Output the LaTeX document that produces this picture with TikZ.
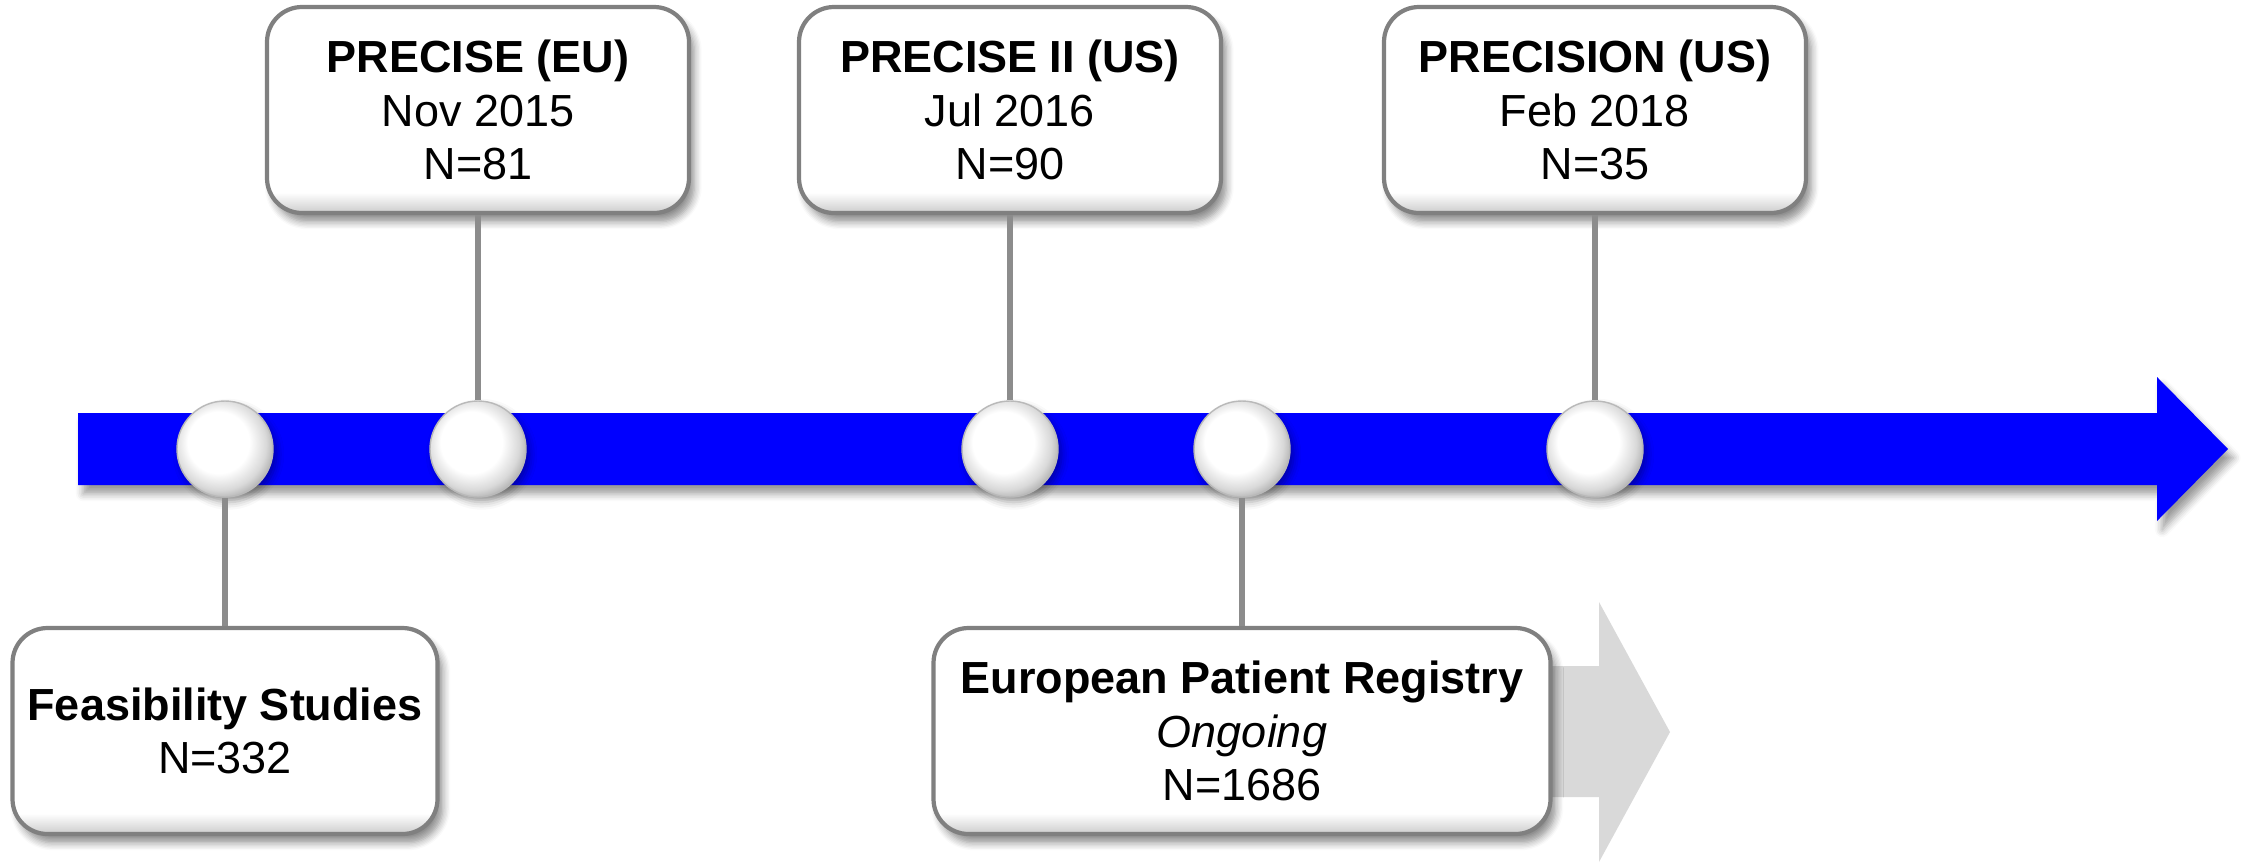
\documentclass[tikz,border=0pt]{standalone}
\usepackage{fontspec}
\setmainfont{Liberation Sans}
\usetikzlibrary{shadows.blur}

\definecolor{lineblue}{RGB}{0,0,255}
\definecolor{ghost}{RGB}{217,217,217}
\pgfdeclareradialshading{pearl}{\pgfpoint{-5bp}{5bp}}{color(0bp)=(white); color(16bp)=(white); color(24bp)=(gray!30); color(29bp)=(gray!65); color(50bp)=(gray!65)}
\pgfdeclareverticalshading{bevel}{100bp}{color(0bp)=(gray!40); color(25bp)=(gray!40); color(30bp)=(white); color(100bp)=(white)}

\begin{document}
\begin{tikzpicture}[x=0.1mm,y=-0.1mm,
	event/.style={draw=black!50,line width=1.2pt,shade,shading=bevel,rounded corners=3.5mm,
		align=center,minimum height=20.6mm,inner sep=2pt,
		font=\fontsize{12.8pt}{15.2pt}\selectfont,
		blur shadow={shadow xshift=1.5pt,shadow yshift=-2.5pt,shadow opacity=45,shadow blur steps=6}},
	dot/.style={circle,minimum size=9.6mm,inner sep=0pt,draw=gray!55,thin,
		shade,shading=pearl,
		blur shadow={shadow xshift=1pt,shadow yshift=-1.5pt,shadow opacity=35,shadow blur steps=4}},
	stem/.style={draw=black!45,line width=1.5pt}]
	\useasboundingbox (0,0) rectangle (2241,862);

	% timeline
	\fill[lineblue,blur shadow={shadow xshift=1.5pt,shadow yshift=-2.5pt,shadow opacity=40,shadow blur steps=5}]
		(78,413) -- (2157,413) -- (2157,377) -- (2228,449) -- (2157,521)
		-- (2157,485) -- (78,485) -- cycle;
	% registry continues
	\fill[ghost] (1500,666) -- (1599,666) -- (1599,602) -- (1670,732)
		-- (1599,862) -- (1599,797) -- (1500,797) -- cycle;

	\node[dot] (feas) at (225,449) {};
	\node[dot] (eu) at (478,449) {};
	\node[dot] (us) at (1010,449) {};
	\node[dot] (reg) at (1242,449) {};
	\node[dot] (prec) at (1595,449) {};

	\node[event,minimum width=42.2mm] (preciseEU) at (478,110)
		{\textbf{PRECISE (EU)}\\Nov 2015\\N=81};
	\node[event,minimum width=42.2mm] (preciseUS) at (1010,110)
		{\textbf{PRECISE II (US)}\\Jul 2016\\N=90};
	\node[event,minimum width=42.2mm] (precision) at (1595,110)
		{\textbf{PRECISION (US)}\\Feb 2018\\N=35};
	\node[event,minimum width=42.5mm] (feasibility) at (225,731)
		{\textbf{Feasibility Studies}\\N=332};
	\node[event,minimum width=61.7mm] (registry) at (1242,731)
		{\textbf{European Patient Registry}\\\textit{Ongoing}\\N=1686};

	\draw[stem] (preciseEU.south) -- (eu.north);
	\draw[stem] (preciseUS.south) -- (us.north);
	\draw[stem] (precision.south) -- (prec.north);
	\draw[stem] (feas.south) -- (feasibility.north);
	\draw[stem] (reg.south) -- (registry.north);
\end{tikzpicture}
\end{document}
